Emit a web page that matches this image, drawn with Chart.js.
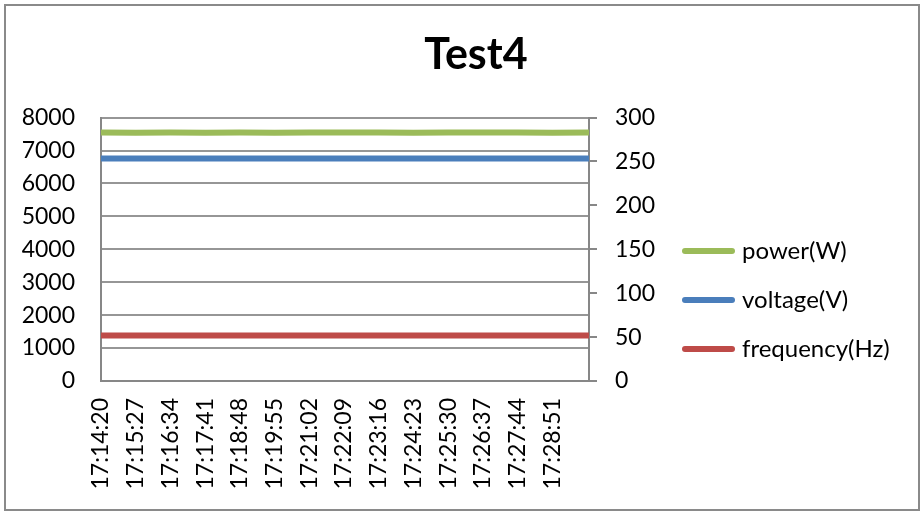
<!DOCTYPE html>
<html>
<head>
<meta charset="utf-8">
<script src="https://cdn.jsdelivr.net/npm/chart.js@4/dist/chart.umd.min.js"></script>
<style>
html,body{margin:0;padding:0;background:#fff;}
#wrap{position:relative;width:923px;height:513px;}
</style>
</head>
<body>
<div id="wrap"><canvas id="c" width="923" height="513"></canvas></div>
<script>
// ---- data ----
const chartTitle = 'Test4';
const tickLabels = ['17:14:20','17:15:27','17:16:34','17:17:41','17:18:48','17:19:55','17:21:02',
  '17:22:09','17:23:16','17:24:23','17:25:30','17:26:37','17:27:44','17:28:51'];
const endTime = '17:30:02';
const sampleTimes = ['17:14:20','17:15:27','17:16:34','17:17:41','17:18:48','17:19:55','17:21:02',
  '17:22:09','17:23:16','17:24:23','17:25:30','17:26:37','17:27:44','17:28:51','17:30:02'];
const powerW      = [7545, 7540, 7548, 7542, 7546, 7543, 7548, 7545, 7549, 7542, 7547, 7545, 7548, 7543, 7546];
const voltageV    = [253.5, 253.5, 253.4, 253.5, 253.5, 253.4, 253.5, 253.5, 253.5, 253.4, 253.5, 253.5, 253.4, 253.5, 253.5];
const frequencyHz = [51.8, 51.8, 51.8, 51.8, 51.8, 51.8, 51.8, 51.8, 51.8, 51.8, 51.8, 51.8, 51.8, 51.8, 51.8];
const seriesNames = ['power(W)', 'voltage(V)', 'frequency(Hz)'];
const seriesColors = ['#9BBB59', '#4A7EBB', '#BE4B48'];
const leftTicks  = {min: 0, max: 8000, step: 1000};
const rightTicks = {min: 0, max: 300, step: 50};

// ---- helpers ----
const toSec = t => { const [h, m, s] = t.split(':').map(Number); return h * 3600 + m * 60 + s; };
const t0 = toSec(tickLabels[0]);
const tickSecs = tickLabels.map(t => toSec(t) - t0);
const xs = sampleTimes.map(t => toSec(t) - t0);
const pts = arr => arr.map((v, i) => ({x: xs[i], y: v}));

const FONT = 'Lato';
const FS = 23;
const GRID = '#969696';
const AXIS = '#878787';

const PAD_L = 5, PAD_R = -24;
const PLOT_L = 101, PLOT_R = 589;

const bgPlugin = {
  id: 'bgBorder',
  beforeDraw(chart) {
    const ctx = chart.ctx;
    ctx.save();
    ctx.fillStyle = '#fff';
    ctx.fillRect(0, 0, chart.width, chart.height);
    ctx.strokeStyle = '#8a8a8a';
    ctx.lineWidth = 2;
    ctx.strokeRect(5, 5, 914, 505);
    ctx.restore();
  }
};

// legend drawn from the chart's own datasets
const legendPlugin = {
  id: 'sideLegend',
  afterDraw(chart) {
    const ctx = chart.ctx;
    ctx.save();
    ctx.font = '24px ' + FONT;
    ctx.textBaseline = 'middle';
    ctx.textAlign = 'left';
    chart.data.datasets.forEach((d, i) => {
      const y = 251 + i * 49;
      ctx.strokeStyle = d.borderColor;
      ctx.lineWidth = 6;
      ctx.lineCap = 'round';
      ctx.beginPath();
      ctx.moveTo(685, y);
      ctx.lineTo(732, y);
      ctx.stroke();
      ctx.fillStyle = '#000';
      ctx.fillText(d.label, 742, y);
    });
    ctx.restore();
  }
};

const mk = (i, data, axis) => ({
  label: seriesNames[i], data, borderColor: seriesColors[i], backgroundColor: seriesColors[i],
  borderWidth: 6, pointRadius: 0, tension: 0, borderCapStyle: 'butt', yAxisID: axis
});

new Chart(document.getElementById('c'), {
  type: 'line',
  data: {
    datasets: [
      mk(0, pts(powerW), 'yL'),
      mk(1, pts(voltageV), 'yR'),
      mk(2, pts(frequencyHz), 'yR')
    ]
  },
  plugins: [bgPlugin, legendPlugin],
  options: {
    responsive: false,
    animation: false,
    events: [],
    layout: {padding: {left: PAD_L, right: PAD_R, top: 0, bottom: 0}},
    plugins: {
      title: {
        display: true, text: chartTitle, color: '#000',
        font: {family: FONT, size: 43, weight: 'bold', lineHeight: 1.2},
        padding: {top: 29, bottom: 37}
      },
      legend: {display: false},
      tooltip: {enabled: false}
    },
    scales: {
      x: {
        type: 'linear', min: 0, max: toSec(endTime) - t0,
        afterBuildTicks(scale) { scale.ticks = tickSecs.map(v => ({value: v})); },
        afterFit(scale) { scale.height = 132; },
        ticks: {
          autoSkip: false, minRotation: 90, maxRotation: 90, padding: 17, color: '#000',
          font: {family: FONT, size: FS},
          callback: (v, i) => tickLabels[i]
        },
        grid: {display: true, drawOnChartArea: false, drawTicks: false},
        border: {display: true, color: AXIS, width: 2}
      },
      yL: {
        position: 'left', min: leftTicks.min, max: leftTicks.max,
        afterFit(scale) { scale.width = PLOT_L - PAD_L; },
        ticks: {stepSize: leftTicks.step, padding: 26, color: '#000', font: {family: FONT, size: FS},
          callback: v => String(v)},
        grid: {color: GRID, lineWidth: 2, drawTicks: false},
        border: {display: true, color: AXIS, width: 2}
      },
      yR: {
        position: 'right', min: rightTicks.min, max: rightTicks.max,
        afterFit(scale) { scale.width = 923 - PAD_R - PLOT_R; },
        ticks: {stepSize: rightTicks.step, padding: 18, color: '#000', font: {family: FONT, size: FS},
          callback: v => String(v)},
        grid: {drawOnChartArea: false, drawTicks: true, tickLength: 8, color: AXIS, lineWidth: 2},
        border: {display: true, color: AXIS, width: 2}
      }
    }
  }
});
</script>
</body>
</html>
